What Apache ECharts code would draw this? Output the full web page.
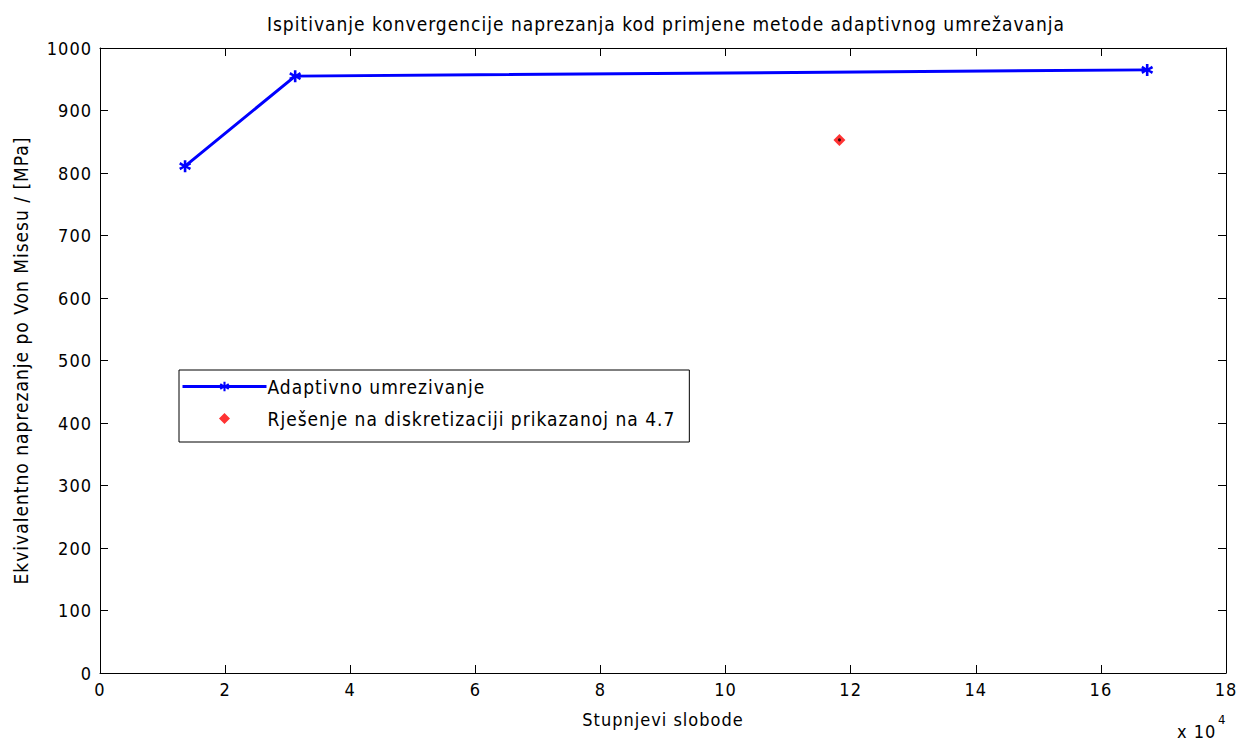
<!DOCTYPE html>
<html>
<head>
<meta charset="utf-8">
<script src="https://cdn.jsdelivr.net/npm/echarts@6/dist/echarts.min.js"></script>
<style>
  html, body { margin: 0; padding: 0; background: #fff; }
  #chart { width: 1237px; height: 742px; }
  /* MATLAB-ov font je uzak ali razmaknut */
  #chart text { letter-spacing: 1px; }
</style>
</head>
<body>
<div id="chart"></div>
<script>
// podaci ocitani sa slike
var adaptDof = [13600, 31200, 167400];
var adaptStress = [811, 955, 965];
var refDof = [118200];
var refStress = [853];
var xTicks = [0, 2, 4, 6, 8, 10, 12, 14, 16, 18];   // x 10^4
var yTicks = [0, 100, 200, 300, 400, 500, 600, 700, 800, 900, 1000];

var font = '"DejaVu Sans Condensed", "DejaVu Sans", sans-serif';

var adaptData = adaptDof.map(function (d, i) { return [d, adaptStress[i]]; });
var refData = refDof.map(function (d, i) { return [d, refStress[i]]; });

// zvjezdica kao marker (asterisk)
var asterisk = 'path://M4,0 L6,0 L6,3 L8.6,1.5 L9.6,3.2 L7,4.5 L9.6,5.8 L8.6,7.5 L6,6 L6,9 L4,9 L4,6 L1.4,7.5 L0.4,5.8 L3,4.5 L0.4,3.2 L1.4,1.5 L4,3 Z';
// romb za legendu, sirok okvir da se ne razvuce
var legendDiamond = 'path://M0,6 L0.01,6 L0.01,6.01 Z M42,0.5 L47.5,6 L42,11.5 L36.5,6 Z M84,6 L84.01,6 L84.01,6.01 Z';

var chart = echarts.init(document.getElementById('chart'), null, { renderer: 'svg' });

var xStep = (xTicks[1] - xTicks[0]) * 1e4;
var yStep = yTicks[1] - yTicks[0];

var baseX = {
  type: 'value',
  min: xTicks[0] * 1e4,
  max: xTicks[xTicks.length - 1] * 1e4,
  interval: xStep,
  splitLine: { show: false },
  axisLine: { show: true, onZero: false, lineStyle: { color: '#000', width: 1 } },
  axisTick: { show: true, inside: true, length: 8, lineStyle: { color: '#000' } }
};
var baseY = {
  type: 'value',
  min: yTicks[0],
  max: yTicks[yTicks.length - 1],
  interval: yStep,
  splitLine: { show: false },
  axisLine: { show: true, onZero: false, lineStyle: { color: '#000', width: 1 } },
  axisTick: { show: true, inside: true, length: 8, lineStyle: { color: '#000' } }
};

var option = {
  backgroundColor: '#fff',
  animation: false,
  title: {
    text: 'Ispitivanje konvergencije naprezanja kod primjene metode adaptivnog umrežavanja',
    left: 661,
    top: 9,
    textAlign: 'center',
    textStyle: { fontFamily: font, fontSize: 19, fontWeight: 'normal', color: '#000' }
  },
  grid: { left: 100, top: 48, width: 1126, height: 625, show: false, containLabel: false, outerBoundsMode: 'none' },
  legend: {
    left: 179,
    top: 370,
    orient: 'vertical',
    padding: [7, 58, 14, 2],
    itemGap: 13,
    itemWidth: 84,
    itemHeight: 12,
    borderColor: '#000',
    borderWidth: 1,
    backgroundColor: '#fff',
    data: [
      { name: 'Adaptivno umrezivanje', lineStyle: { width: 3 } },
      { name: 'Rješenje na diskretizaciji prikazanoj na 4.7', icon: legendDiamond }
    ],
    textStyle: { fontFamily: font, fontSize: 19, color: '#000', padding: [0, 0, 0, -4] }
  },
  xAxis: [
    Object.assign({}, baseX, {
      position: 'bottom',
      name: 'Stupnjevi slobode',
      nameLocation: 'middle',
      nameGap: 37,
      nameTextStyle: { fontFamily: font, fontSize: 18, color: '#000' },
      axisLabel: {
        fontFamily: font, fontSize: 18, color: '#000', margin: 7,
        formatter: function (v) { return String(v / 1e4); }
      }
    }),
    Object.assign({}, baseX, { position: 'top', axisLabel: { show: false } })
  ],
  yAxis: [
    Object.assign({}, baseY, {
      position: 'left',
      name: 'Ekvivalentno naprezanje po Von Misesu / [MPa]',
      nameLocation: 'middle',
      nameGap: 70,
      nameTextStyle: { fontFamily: font, fontSize: 19, color: '#000' },
      axisLabel: {
        fontFamily: font, fontSize: 18, color: '#000', margin: 8,
        formatter: function (v) { return String(v); }
      }
    }),
    Object.assign({}, baseY, { position: 'right', axisLabel: { show: false } })
  ],
  graphic: [
    {
      type: 'text', left: 1177, top: 722,
      style: { text: 'x 10', fontFamily: font, fontSize: 18, fill: '#000' }
    },
    {
      type: 'text', left: 1218, top: 713,
      style: { text: '4', fontFamily: font, fontSize: 13, fill: '#000' }
    }
  ],
  series: [
    {
      name: 'Adaptivno umrezivanje',
      type: 'line',
      data: adaptData,
      symbol: asterisk,
      symbolSize: 12,
      itemStyle: { color: '#0000ff' },
      lineStyle: { color: '#0000ff', width: 3 }
    },
    {
      name: 'Rješenje na diskretizaciji prikazanoj na 4.7',
      type: 'scatter',
      data: refData,
      symbol: 'diamond',
      symbolSize: 12,
      itemStyle: { color: '#ff0000' }
    },
    {
      name: 'centar',
      type: 'scatter',
      data: refData,
      symbol: 'circle',
      symbolSize: 3,
      silent: true,
      itemStyle: { color: '#000' },
      z: 3
    }
  ]
};

chart.setOption(option);
</script>
</body>
</html>
